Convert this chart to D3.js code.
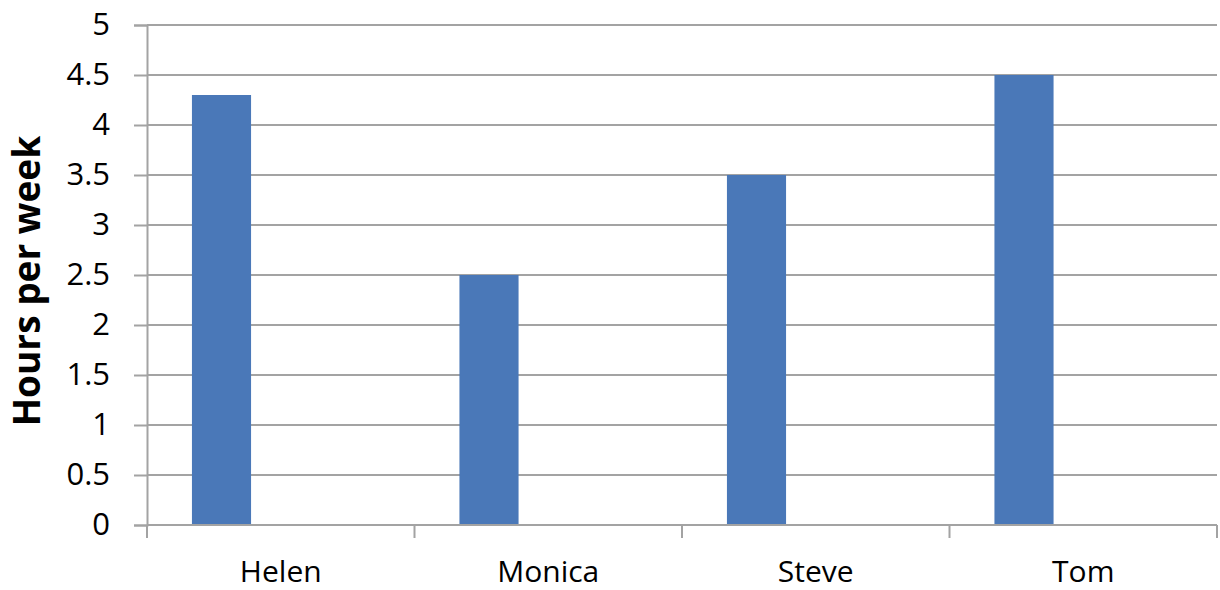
<!DOCTYPE html>
<html>
<head>
<meta charset="utf-8">
<script src="https://cdn.jsdelivr.net/npm/d3@7"></script>
<style>
  body { margin: 0; background: #fff; }
  text { font-family: "Open Sans", "Noto Sans", sans-serif; fill: #000; }
</style>
</head>
<body>
<div id="chart"></div>
<script>
const width = 1220;
const height = 590;

// data
const names = ["Helen", "Monica", "Steve", "Tom"];
const hours = [4.3, 2.5, 3.5, 4.5];
const yTicks = [0, 0.5, 1, 1.5, 2, 2.5, 3, 3.5, 4, 4.5, 5];
const yTitle = "Hours per week";

const plotLeft = 147, plotRight = 1217, plotTop = 25, plotBottom = 525;
const gridColor = "#a3a3a3";

const svg = d3.select("#chart").append("svg").attr("width", width).attr("height", height);

const x = d3.scaleBand().domain(names).range([plotLeft, plotRight]).padding(0);
const y = d3.scaleLinear().domain([0, 5]).range([plotBottom, plotTop]);

// horizontal grid lines
svg.append("g")
  .selectAll("line")
  .data(yTicks)
  .enter()
  .append("line")
  .attr("x1", plotLeft)
  .attr("x2", plotRight)
  .attr("y1", (d) => y(d))
  .attr("y2", (d) => y(d))
  .attr("stroke", gridColor)
  .attr("stroke-width", 2);

// bars
svg.append("g")
  .selectAll("rect")
  .data(names)
  .enter()
  .append("rect")
  .attr("x", (d) => x(d) + x.bandwidth() * 0.168)
  .attr("width", x.bandwidth() * 0.221)
  .attr("y", (d, i) => y(hours[i]))
  .attr("height", (d, i) => y(0) - y(hours[i]))
  .attr("fill", "#4a78b8");

// y axis
const yAxis = svg.append("g")
  .attr("transform", `translate(${plotLeft},0)`)
  .call(d3.axisLeft(y).tickValues(yTicks).tickSize(13).tickPadding(24).tickFormat(d3.format("")));
yAxis.select(".domain").attr("stroke", gridColor).attr("stroke-width", 2);
yAxis.selectAll(".tick line").attr("stroke", gridColor).attr("stroke-width", 2);
yAxis.selectAll(".tick text")
  .attr("font-family", "'Open Sans', 'Noto Sans', sans-serif")
  .attr("font-size", 31)
  .attr("fill", "#000");

// x axis: line and ticks at category boundaries
const xg = svg.append("g");
xg.append("line")
  .attr("x1", plotLeft).attr("x2", plotRight)
  .attr("y1", plotBottom).attr("y2", plotBottom)
  .attr("stroke", gridColor).attr("stroke-width", 2);
const bounds = names.map((d) => x(d)).concat([plotRight]);
xg.selectAll(".xt")
  .data(bounds)
  .enter()
  .append("line")
  .attr("x1", (d) => d).attr("x2", (d) => d)
  .attr("y1", plotBottom).attr("y2", plotBottom + 13)
  .attr("stroke", gridColor).attr("stroke-width", 2);
xg.selectAll("text")
  .data(names)
  .enter()
  .append("text")
  .attr("x", (d) => x(d) + x.bandwidth() / 2)
  .attr("y", 582)
  .attr("text-anchor", "middle")
  .attr("font-size", 30)
  .text((d) => d);

// y title
svg.append("text")
  .attr("transform", "translate(40,281) rotate(-90)")
  .attr("text-anchor", "middle")
  .attr("font-size", 37)
  .attr("font-weight", "bold")
  .text(yTitle);
</script>
</body>
</html>
